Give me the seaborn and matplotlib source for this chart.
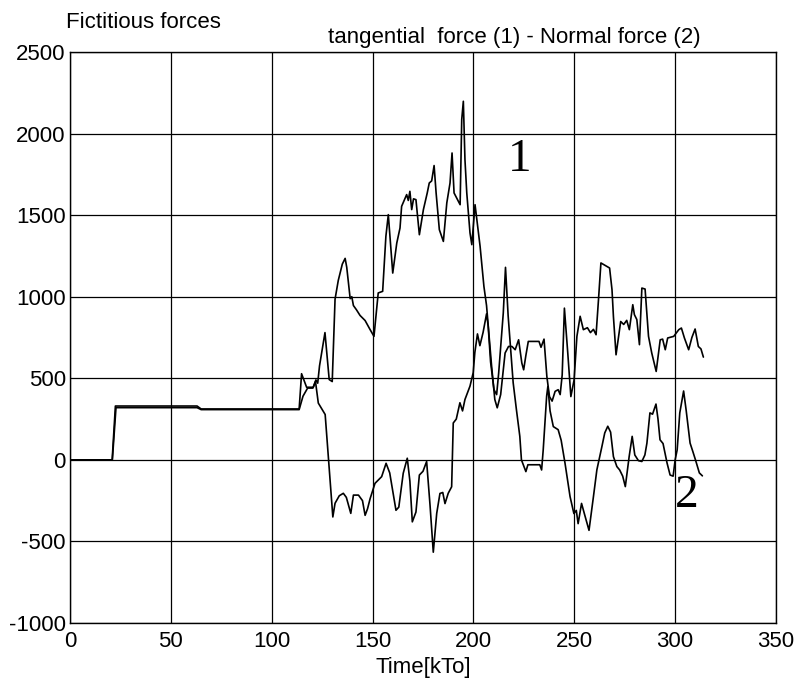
import numpy as np
import pandas as pd
import matplotlib
matplotlib.use("Agg")
import matplotlib.pyplot as plt
import seaborn as sns

# ---- data ----
x_ticks = [0, 50, 100, 150, 200, 250, 300, 350]
y_ticks = [-1000, -500, 0, 500, 1000, 1500, 2000, 2500]

tangential_t = [0, 20.9, 22.5, 63, 65, 113.6, 114.8, 117.3, 120.6, 121.9, 122.8, 123.7, 126.4, 128.5,
                130.0, 131.4, 133.0, 135.0, 136.4, 137.2, 138.9, 139.7, 140.5, 142.0, 143.8, 146.3,
                148.7, 150.7, 152.8, 155.0, 156.6, 157.8, 160.0, 162.0, 163.6, 164.4, 166.9, 167.7,
                168.5, 169.4, 170.3, 171.5, 173.2, 175.2, 177.1, 178.1, 179.3, 180.5, 181.5, 183.1,
                185.1, 186.8, 188.4, 189.4, 190.4, 191.9, 193.4, 194.2, 195.0, 195.8, 196.7, 198.3,
                199.2, 200.8, 203.3, 205.2, 206.5, 209.0, 210.6, 211.8, 213.5, 215.7, 217.4, 219.1,
                220.7, 222.4, 224.0, 224.9, 226.0, 227.2, 232.5, 233.5, 235.0, 236.4, 237.7, 239.0,
                240.5, 242.0, 243.0, 244.0, 245.1, 246.8, 248.3, 249.9, 251.3, 252.9, 254.5, 256.5,
                258.0, 259.5, 260.8, 262.0, 263.2, 265.5, 267.5, 268.7, 269.4, 270.7, 272.0, 273.0,
                274.5, 276.0, 277.3, 279.0, 279.8, 281.0, 282.3, 283.5, 285.1, 286.8, 288.4, 290.6,
                292.6, 293.8, 295.1, 296.3, 299.3, 301.8, 303.1, 304.6, 306.7, 308.3, 309.9, 311.5,
                312.8, 314.0]
tangential_f = [0, 0, 330, 330, 312, 312, 528, 445, 445, 490, 470, 576, 780, 492,
                480, 985, 1100, 1200, 1235, 1180, 988, 1000, 946, 920, 885, 854,
                800, 757, 1023, 1033, 1370, 1503, 1145, 1329, 1421, 1554, 1626, 1590,
                1646, 1534, 1600, 1595, 1380, 1534, 1636, 1697, 1710, 1804, 1636, 1411,
                1339, 1575, 1697, 1881, 1636, 1600, 1564, 2086, 2198, 1840, 1636, 1391,
                1319, 1564, 1309, 1063, 946, 576, 370, 319, 400, 655, 695, 695,
                675, 736, 593, 552, 640, 726, 726, 690, 740, 511, 388, 360,
                420, 430, 400, 520, 930, 650, 388, 490, 757, 880, 798, 810,
                780, 800, 767, 982, 1207, 1190, 1176, 1043, 879, 644, 760, 848,
                830, 855, 798, 951, 890, 860, 706, 1053, 1047, 757, 655, 542,
                736, 740, 675, 747, 757, 798, 808, 747, 675, 750, 802, 695,
                680, 630]

normal_t = [0, 21.0, 22.8, 63, 65, 113.6, 115.5, 117.8, 120.4, 121.7, 123.1, 126.5, 130.3, 131.4,
            133.5, 135.5, 137.0, 139.2, 140.5, 143.0, 145.0, 146.3, 147.5, 148.8, 151.2, 154.5,
            156.7, 158.5, 161.6, 163.0, 165.2, 167.2, 168.5, 169.7, 171.5, 173.2, 175.0, 176.8,
            178.5, 180.1, 181.8, 183.4, 184.8, 185.9, 187.5, 189.2, 190.0, 191.5, 193.3, 194.6,
            195.8, 198.3, 199.9, 200.7, 202.0, 203.2, 204.8, 206.5, 207.3, 208.5, 210.2, 211.5,
            212.5, 214.8, 215.9, 217.2, 219.7, 221.3, 223.0, 223.8, 226.0, 227.0, 232.9, 233.8,
            234.6, 236.3, 236.9, 238.0, 239.6, 242.0, 243.5, 245.4, 247.9, 249.8, 251.0, 251.9,
            253.6, 255.0, 257.3, 259.5, 261.2, 263.7, 265.1, 266.6, 268.0, 269.4, 271.1, 272.5,
            274.0, 275.3, 277.2, 278.7, 280.0, 281.8, 283.5, 285.0, 286.0, 287.5, 288.8, 290.5,
            291.5, 292.5, 294.0, 296.0, 297.5, 299.0, 300.0, 301.0, 302.3, 304.2, 305.5, 307.4,
            308.8, 310.2, 312.0, 313.5]
normal_f = [0, 0, 320, 320, 308, 308, 390, 440, 440, 480, 348, 278, -350, -266,
            -220, -205, -230, -328, -216, -216, -250, -340, -300, -237, -144, -103,
            -21, -80, -309, -290, -82, 10, -130, -380, -320, -93, -70, -10,
            -280, -566, -328, -206, -200, -268, -205, -165, 226, 250, 350, 300,
            370, 452, 535, 658, 772, 700, 782, 895, 823, 600, 430, 400,
            530, 900, 1180, 885, 473, 309, 144, 0, -72, -30, -30, -62,
            62, 391, 450, 300, 204, 185, 120, -20, -225, -329, -310, -391,
            -267, -330, -432, -225, -61, 82, 165, 206, 170, 20, -41, -62,
            -100, -164, 20, 144, 30, -5, -10, 30, 102, 288, 280, 342,
            250, 123, 100, -20, -93, -100, 0, 61, 288, 422, 300, 103,
            50, -5, -80, -98]

curve_labels = ["1", "2"]
label_pos_t = [223, 306]
label_pos_f = [1840, -221]

# ---- style ----
sns.set_style("white")
plt.rcParams['font.family'] = ['Liberation Sans', 'DejaVu Sans']
plt.rcParams['text.color'] = 'black'
plt.rcParams['axes.labelcolor'] = 'black'
plt.rcParams['xtick.color'] = 'black'
plt.rcParams['ytick.color'] = 'black'

df_t = pd.DataFrame({"t": tangential_t, "f": tangential_f})
df_n = pd.DataFrame({"t": normal_t, "f": normal_f})

W, H = 798, 684
fig = plt.figure(figsize=(W / 100, H / 100), dpi=100)
ax = fig.add_axes([70 / W, 1 - 623 / H, (776 - 70) / W, (623 - 52) / H])

sns.lineplot(data=df_t, x="t", y="f", ax=ax, color="black", linewidth=1.2,
             estimator=None, sort=False)
sns.lineplot(data=df_n, x="t", y="f", ax=ax, color="black", linewidth=1.2,
             estimator=None, sort=False)

ax.set_xlim(0, 350)
ax.set_ylim(-1000, 2500)
ax.set_xticks(x_ticks)
ax.set_yticks(y_ticks)
ax.set_xticklabels([str(v) for v in x_ticks])
ax.set_yticklabels([str(v) for v in y_ticks])
ax.grid(True, color="black", linewidth=0.9)
ax.set_axisbelow(True)
ax.tick_params(axis="both", length=0, labelsize=16, colors="black")
ax.tick_params(axis="y", pad=3)
ax.tick_params(axis="x", pad=6)
for s in ax.spines.values():
    s.set_color("black")
    s.set_linewidth(1.0)

ax.set_xlabel("Time[kTo]", fontsize=16, labelpad=3, color="black")
ax.set_ylabel("")

for lab, xt, yt in zip(curve_labels, label_pos_t, label_pos_f):
    ax.text(xt, yt, lab, fontsize=34, family=["Liberation Serif", "DejaVu Serif"],
            ha="center", va="center", color="black")

fig.text(66 / W, 1 - 22 / H, "Fictitious forces", fontsize=16, ha="left", va="center",
         color="black")
fig.text(514 / W, 1 - 37 / H, "tangential  force (1) - Normal force (2)", fontsize=16,
         ha="center", va="center", color="black")

fig.savefig("out.png", dpi=100, facecolor="white")
